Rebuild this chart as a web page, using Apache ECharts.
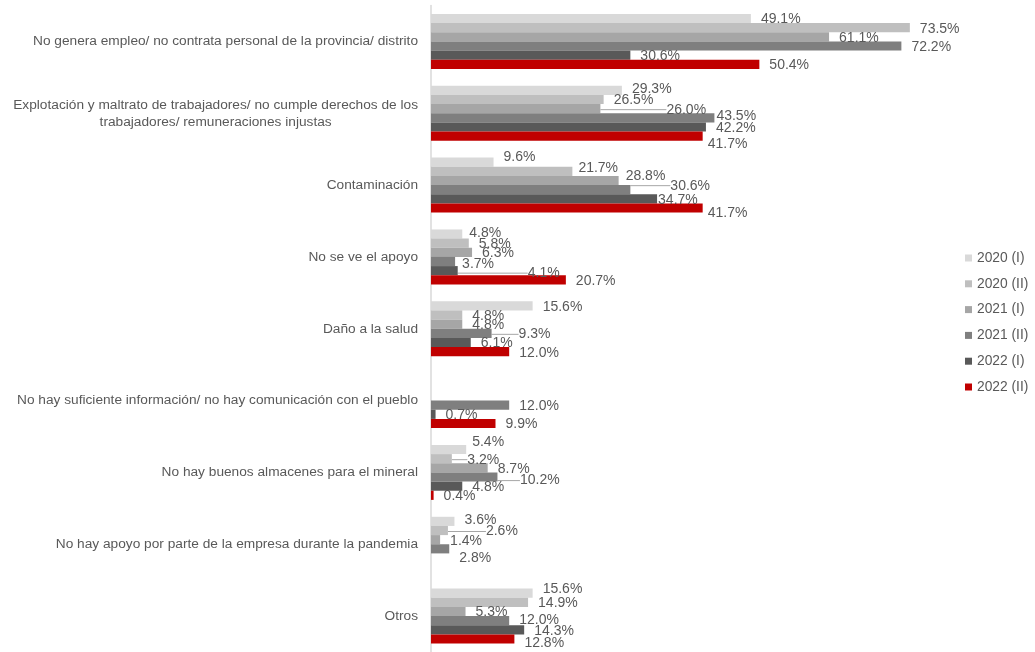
<!DOCTYPE html>
<html>
<head>
<meta charset="utf-8">
<script src="https://cdn.jsdelivr.net/npm/echarts@6/dist/echarts.min.js"></script>
<style>
  html, body { margin: 0; padding: 0; background: #fff; }
  #chart { width: 1035px; height: 652px; }
</style>
</head>
<body>
<div id="chart"></div>
<script>
// Reasons given for rejecting the mining company, by survey wave (%)
const categories = [
  'No genera empleo/ no contrata personal de la provincia/ distrito',
  'Explotación y maltrato de trabajadores/ no cumple derechos de los\ntrabajadores/ remuneraciones injustas',
  'Contaminación',
  'No se ve el apoyo',
  'Daño a la salud',
  'No hay suficiente información/ no hay comunicación con el pueblo',
  'No hay buenos almacenes para el mineral',
  'No hay apoyo por parte de la empresa durante la pandemia',
  'Otros'
];
const waves = ['2020 (I)', '2020 (II)', '2021 (I)', '2021 (II)', '2022 (I)', '2022 (II)'];

const w2020a = [49.1, 29.3, 9.6, 4.8, 15.6, null, 5.4, 3.6, 15.6];
const w2020b = [73.5, 26.5, 21.7, 5.8, 4.8, null, 3.2, 2.6, 14.9];
const w2021a = [61.1, 26.0, 28.8, 6.3, 4.8, null, 8.7, 1.4, 5.3];
const w2021b = [72.2, 43.5, 30.6, 3.7, 9.3, 12.0, 10.2, 2.8, 12.0];
const w2022a = [30.6, 42.2, 34.7, 4.1, 6.1, 0.7, 4.8, null, 14.3];
const w2022b = [50.4, 41.7, 41.7, 20.7, 12.0, 9.9, 0.4, null, 12.8];
const seriesValues = [w2020a, w2020b, w2021a, w2021b, w2022a, w2022b];

const colors = ['#d9d9d9', '#bfbfbf', '#a6a6a6', '#7f7f7f', '#595959', '#c00000'];

// Hand-placed value labels: "series,category" -> [dx, dy, leader line]
const labelNudges = {
  '0,1': [0, -2.5], '2,1': [56, 0, true], '3,1': [-8, -3], '5,1': [-5, 7],
  '0,2': [0, -6], '1,2': [-4, -4], '2,2': [-3, -5], '3,2': [30, -5, true],
  '4,2': [-9, 0], '5,2': [-5, 4],
  '0,3': [-3, -2], '3,3': [-3, 1.5], '4,3': [60, 1.5, true],
  '3,4': [17, 0, true],
  '0,6': [-4, -8], '1,6': [5.5, 0, true], '3,6': [12.5, 2.6, true],
  '0,7': [0, -2], '1,7': [28, 0, true], '3,7': [0, 8],
  '0,8': [0, -4.6], '3,8': [0, -2], '5,8': [0, 3]
};

const FONT = "'Liberation Sans', Arial, sans-serif";
const TEXT = '#595959';

const series = waves.map((name, s) => ({
  name,
  type: 'bar',
  barGap: '0%',
  barCategoryGap: '23.5%',
  itemStyle: { color: colors[s] },
  label: {
    show: true,
    position: 'right',
    distance: 10,
    color: TEXT,
    fontFamily: FONT,
    fontSize: 14,
    formatter: p => p.value.toFixed(1) + '%'
  },
  labelLine: { show: false },
  data: seriesValues[s].map((v, i) => {
    const n = labelNudges[s + ',' + i];
    if (v == null) return '-';
    if (n && n[2]) {
      return { value: v, labelLine: { show: true, lineStyle: { color: '#a6a6a6', width: 1 } } };
    }
    return v;
  }),
  emphasis: { disabled: true }
}));

const chart = echarts.init(document.getElementById('chart'), null, { renderer: 'canvas' });
chart.setOption({
  animation: false,
  textStyle: { fontFamily: FONT },
  grid: { left: 431, top: 5.5, width: 521.2, height: 646.5, containLabel: false },
  xAxis: { type: 'value', min: 0, max: 80, show: false },
  yAxis: {
    type: 'category',
    inverse: true,
    data: categories,
    axisTick: { show: false },
    axisLine: { show: true, lineStyle: { color: '#d9d9d9', width: 1.5 } },
    axisLabel: {
      margin: 13,
      color: TEXT,
      fontFamily: FONT,
      fontSize: 13.7,
      formatter: v => v.split('\n').map(l => '{c|' + l + '}').join('\n'),
      rich: { c: { align: 'center', color: TEXT, fontFamily: FONT, fontSize: 13.7, lineHeight: 17 } }
    }
  },
  legend: {
    orient: 'vertical',
    left: 960,
    top: 245,
    icon: 'rect',
    itemWidth: 7,
    itemHeight: 7,
    itemGap: 9.8,
    textStyle: { color: TEXT, fontFamily: FONT, fontSize: 13.8, lineHeight: 16 },
    data: waves
  },
  labelLayout: p => {
    const n = labelNudges[p.seriesIndex + ',' + p.dataIndex];
    return n ? { dx: n[0], dy: n[1] + 1 } : { dy: 1 };
  },
  series
});
</script>
</body>
</html>
